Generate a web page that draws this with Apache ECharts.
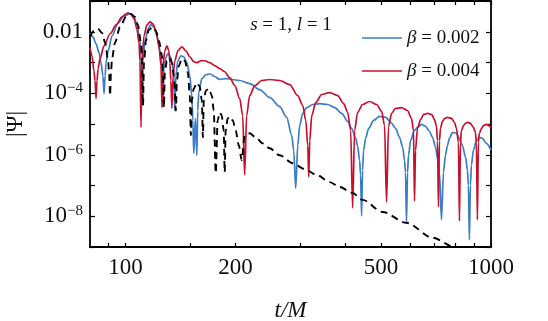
<!DOCTYPE html>
<html>
<head>
<meta charset="utf-8">
<script src="https://cdn.jsdelivr.net/npm/echarts@6/dist/echarts.min.js"></script>
<style>
  html, body { margin: 0; padding: 0; background: #fff; }
  #chart { width: 548px; height: 321px; }
</style>
</head>
<body>
<div id="chart"></div>
<script>
// axis ticks / labels
const xTicks = [90, 100, 150, 200, 300, 400, 500, 600, 700, 800, 900, 1000]
const xLabels = [100, 200, 500, 1000]
const yTicks = [1e-9, 1e-8, 1e-7, 1e-6, 1e-5, 1e-4, 1e-3, 1e-2, 1e-1]
const yLabels = [1e-8, 1e-6, 1e-4, 1e-2]

// |Psi| vs t/M
const gr = [
  [80.0, 6.8e-3], [82.0, 0.0107], [84.2, 0.0124], [86.3, 9.2e-3], [88.0, 4.4e-3],
  [89.7, 1.14e-3], [90.2, 4.7e-4], [90.8, 8.4e-5], [91.3, 4.7e-4], [91.9, 1.33e-3],
  [93.6, 4.4e-3], [96.7, 0.0144], [100.4, 0.0303], [103.5, 0.038], [106.2, 0.0303],
  [108.2, 0.0167], [110.3, 4.4e-3], [111.0, 1.14e-3], [111.7, 4.0e-5], [112.4, 9.9e-4],
  [113.8, 5.1e-3], [115.9, 0.0115], [118.9, 0.0144], [121.2, 0.0107], [123.5, 5.1e-3],
  [125.9, 1.66e-3], [126.6, 5.4e-4], [127.4, 3.4e-5], [128.2, 4.7e-4], [129.8, 1.14e-3],
  [132.3, 1.43e-3], [134.0, 9.9e-4], [135.7, 3.7e-4], [137.4, 2.75e-5], [138.3, 2.6e-4],
  [140.0, 7.9e-4], [142.7, 1.33e-3], [145.4, 1.14e-3], [148.2, 4.7e-4], [150.0, 8.4e-5],
  [151.0, 4.3e-6], [151.9, 5.8e-5], [153.8, 1.42e-4], [156.8, 2.2e-4], [159.7, 1.65e-4],
  [161.8, 5.8e-5], [162.9, 3.7e-6], [163.8, 5.8e-5], [165.9, 1.22e-4], [169.1, 1.42e-4],
  [172.3, 8.4e-5], [174.4, 2.75e-5], [176.6, 2.5e-7], [178.8, 1.31e-5], [181.1, 2.37e-5],
  [183.4, 1.9e-5], [185.7, 6.2e-6], [186.9, 2.7e-7], [188.0, 6.2e-6], [190.4, 1.52e-5],
  [192.8, 1.76e-5], [196.7, 1.31e-5], [200.2, 6.2e-6], [204.3, 2.0e-6], [208.0, 6.6e-7],
  [211.9, 4.3e-6], [218.7, 5.0e-6], [227.1, 3.7e-6], [237.6, 2.35e-6], [248.0, 1.62e-6],
  [264.2, 9.6e-7], [286.9, 5.3e-7], [309.4, 3.4e-7], [333.7, 2.2e-7], [362.0, 1.29e-7],
  [385.5, 8.9e-8], [418.3, 5.7e-8], [445.4, 3.4e-8], [505.0, 1.38e-8], [587.3, 6.1e-9],
  [691.6, 2.0e-9], [794.3, 1.0e-9], [872.8, 5.6e-10]
]

const beta002 = [
  [80.0, 9.2e-3], [81.5, 6.8e-3], [83.1, 4.06e-3], [84.7, 2.08e-3], [85.7, 9.9e-4],
  [86.8, 3.7e-4], [87.4, 9.8e-5], [88.0, 3.7e-4], [88.5, 9.9e-4], [89.7, 2.4e-3],
  [91.9, 7.4e-3], [95.5, 0.0194], [99.2, 0.0327], [102.9, 0.038], [105.6, 0.0303],
  [107.5, 0.0167], [109.6, 5.1e-3], [110.3, 1.66e-3], [111.0, 4.0e-5], [111.7, 1.14e-3],
  [113.1, 5.1e-3], [115.3, 0.0124], [117.4, 0.0167], [119.7, 0.0144], [121.9, 7.4e-3],
  [124.3, 2.4e-3], [125.9, 7.9e-4], [126.6, 4.0e-5], [127.4, 6.3e-4], [129.0, 1.43e-3],
  [130.6, 1.93e-3], [132.3, 1.66e-3], [134.0, 9.9e-4], [135.7, 3.7e-4], [136.5, 2.75e-5],
  [137.4, 3.7e-4], [139.1, 1.14e-3], [141.8, 1.66e-3], [144.5, 1.54e-3], [147.3, 9.9e-4],
  [150.0, 3.7e-4], [151.9, 8.4e-5], [152.9, 1.31e-5], [153.8, 1.12e-6], [155.4, 1.5e-5],
  [156.8, 9.6e-7], [157.7, 2.75e-5], [158.7, 1.05e-4], [161.8, 3.0e-4], [165.9, 4.0e-4],
  [170.1, 4.3e-4], [175.5, 3.5e-4], [181.1, 2.8e-4], [188.0, 3.0e-4], [195.3, 2.8e-4],
  [205.4, 2.6e-4], [218.7, 2.06e-4], [232.9, 1.32e-4], [248.0, 7.3e-5], [264.2, 3.7e-5],
  [276.1, 1.64e-5], [285.0, 4.3e-6], [288.6, 1.4e-6], [292.3, 8.2e-8], [296.0, 2.0e-6],
  [299.8, 9.0e-6], [305.5, 2.2e-5], [313.3, 3.4e-5], [325.4, 4.3e-5], [340.0, 4.6e-5],
  [357.6, 4.3e-5], [373.6, 3.4e-5], [390.6, 2.2e-5], [405.5, 1.21e-5], [415.7, 7.2e-6],
  [426.5, 3.4e-6], [431.6, 1.9e-6], [437.1, 6.6e-7], [439.8, 2.2e-7], [442.6, 1.02e-8],
  [445.4, 3.15e-7], [448.2, 1.4e-6], [453.9, 3.4e-6], [462.8, 7.2e-6], [477.6, 1.31e-5],
  [495.6, 1.76e-5], [514.6, 1.64e-5], [534.9, 1.05e-5], [548.0, 7.2e-6], [562.0, 3.7e-6],
  [573.3, 1.75e-6], [580.0, 6.6e-7], [583.6, 2.7e-7], [587.3, 6.1e-9], [591.0, 2.7e-7],
  [594.8, 9.6e-7], [602.7, 2.9e-6], [617.6, 6.2e-6], [634.0, 8.4e-6], [645.4, 9.7e-6],
  [662.4, 8.4e-6], [678.7, 5.8e-6], [691.6, 3.7e-6], [705.5, 1.75e-6], [713.8, 7.6e-7],
  [722.8, 2.7e-7], [732.0, 7.6e-9], [741.2, 2.7e-7], [750.6, 9.6e-7], [760.1, 2.0e-6],
  [769.7, 3.4e-6], [784.3, 5.35e-6], [804.4, 5.0e-6], [819.7, 3.4e-6], [835.3, 2.0e-6],
  [852.0, 8.3e-7], [861.9, 3.15e-7], [867.3, 1.03e-7], [872.8, 1.7e-9], [878.3, 1.03e-7],
  [883.9, 4.6e-7], [895.1, 1.4e-6], [912.1, 2.9e-6], [929.5, 3.7e-6], [947.2, 3.4e-6],
  [971.3, 2.35e-6], [1000, 1.4e-6]
]

const beta004 = [
  [80.0, 3.0e-3], [81.0, 1.66e-3], [82.0, 5.4e-4], [82.6, 2.6e-4], [83.1, 6.7e-5],
  [83.6, 2.6e-4], [84.2, 6.3e-4], [85.2, 1.33e-3], [87.4, 3.5e-3], [90.8, 8.6e-3],
  [94.3, 0.0167], [97.9, 0.0303], [100.4, 0.0379], [101.6, 0.041], [103.5, 0.038],
  [105.6, 0.0261], [107.5, 0.0124], [108.9, 4.4e-3], [109.6, 1.14e-3], [110.3, 7.8e-6],
  [111.0, 1.14e-3], [112.4, 7.4e-3], [114.5, 0.0167], [116.7, 0.0209], [118.9, 0.018],
  [121.2, 0.0107], [123.5, 3.5e-3], [125.1, 7.9e-4], [125.9, 3.4e-5], [126.6, 7.9e-4],
  [128.2, 2.4e-3], [129.8, 3.5e-3], [131.5, 2.4e-3], [132.3, 9.9e-4], [133.1, 2.6e-4],
  [134.0, 3.2e-5], [134.8, 3.0e-4], [136.5, 1.14e-3], [139.1, 2.4e-3], [142.7, 3.25e-3],
  [146.3, 2.4e-3], [150.0, 1.54e-3], [153.8, 1.06e-3], [156.8, 9.9e-4], [160.9, 1.14e-3],
  [164.9, 1.14e-3], [170.1, 9.9e-4], [175.5, 7.9e-4], [181.1, 6.3e-4], [186.9, 5.0e-4],
  [192.8, 3.2e-4], [199.2, 1.77e-4], [205.4, 6.7e-5], [209.3, 1.9e-5], [211.9, 2.2e-7],
  [214.6, 1.9e-5], [218.7, 8.4e-5], [225.9, 1.77e-4], [236.1, 2.6e-4], [248.0, 2.8e-4],
  [264.2, 2.6e-4], [281.4, 1.9e-4], [296.0, 8.4e-5], [305.5, 4.0e-5], [311.4, 1.31e-5],
  [315.3, 2.0e-6], [317.3, 1.9e-7], [319.3, 2.9e-6], [323.4, 1.9e-5], [331.6, 5.0e-5],
  [344.3, 9.1e-5], [362.0, 1.05e-4], [380.8, 8.4e-5], [395.3, 4.6e-5], [405.5, 2.37e-5],
  [413.1, 6.2e-6], [418.3, 1.86e-8], [423.6, 6.2e-6], [431.6, 2.37e-5], [445.4, 4.3e-5],
  [465.4, 5.4e-5], [486.6, 4.3e-5], [502.2, 2.56e-5], [511.4, 9.0e-6], [517.9, 2.9e-8],
  [524.4, 8.4e-6], [534.9, 2.2e-5], [548.0, 3.2e-5], [569.1, 3.4e-5], [591.0, 2.75e-5],
  [606.1, 1.52e-5], [613.8, 6.2e-6], [617.6, 3.1e-8], [621.5, 1.4e-6], [629.4, 7.2e-6],
  [642.1, 1.41e-5], [654.3, 2.05e-5], [670.2, 2.2e-5], [688.0, 2.05e-5], [700.4, 1.41e-5],
  [709.3, 8.4e-6], [713.8, 2.9e-6], [718.3, 2.0e-8], [722.8, 2.9e-6], [727.4, 7.2e-6],
  [736.6, 1.21e-5], [746.5, 1.52e-5], [760.1, 1.64e-5], [780.1, 1.52e-5], [794.3, 1.13e-5],
  [804.4, 7.2e-6], [814.6, 2.54e-6], [819.7, 7.0e-9], [824.9, 2.54e-6], [830.1, 6.2e-6],
  [841.4, 9.0e-6], [852.0, 1.05e-5], [861.9, 1.13e-5], [878.3, 1.05e-5], [895.1, 7.8e-6],
  [906.4, 5.35e-6], [912.1, 2.54e-6], [917.9, 7.6e-9], [923.7, 2.54e-6], [929.5, 5.0e-6],
  [942.4, 7.2e-6], [954.3, 9.0e-6], [971.3, 9.7e-6], [1000, 7.8e-6]
]

const FONT = 'Liberation Serif'
const BLUE = '#3a7cc6'
const RED = '#c8102e'
const INK = '#111'

const chart = echarts.init(document.getElementById('chart'), null, { renderer: 'canvas' })

const axisLineStyle = { color: '#000', width: 1.8 }

// shared bits for the frame axes
const xAxisBase = {
  type: 'log',
  min: 80,
  max: 1000,
  splitLine: { show: false },
  axisLine: { show: true, onZero: false, lineStyle: axisLineStyle },
  axisTick: { show: true, inside: true, length: 4, customValues: xTicks, lineStyle: { color: '#000', width: 1.2 } }
}
const yAxisBase = {
  type: 'log',
  min: 1e-9,
  max: 0.1,
  splitLine: { show: false },
  axisLine: { show: true, onZero: false, lineStyle: axisLineStyle },
  axisTick: { show: true, inside: true, length: 5, customValues: yTicks, lineStyle: { color: '#000', width: 1.2 } }
}

const option = {
  animation: false,
  backgroundColor: '#fff',
  grid: { left: 90, right: 57, top: 1, bottom: 74, outerBoundsMode: 'none' },
  legend: {
    data: ['β = 0.002', 'β = 0.004'],
    orient: 'vertical',
    left: 357,
    top: 23,
    icon: 'rect',
    itemWidth: 40,
    itemHeight: 1.7,
    itemGap: 13,
    formatter: name => '{b|β}' + name.slice(1),
    textStyle: {
      fontFamily: FONT, fontSize: 19, color: INK, lineHeight: 20,
      rich: { b: { fontFamily: FONT, fontSize: 19, fontStyle: 'italic', color: INK, lineHeight: 20 } }
    }
  },
  xAxis: [
    {
      ...xAxisBase,
      position: 'bottom',
      name: 't/M',
      nameLocation: 'middle',
      nameGap: 52,
      nameTextStyle: { fontFamily: FONT, fontSize: 23, fontStyle: 'italic', color: INK },
      axisLabel: {
        customValues: xLabels,
        margin: 9,
        fontFamily: FONT, fontSize: 23, color: INK,
        formatter: v => String(Math.round(v))
      }
    },
    { ...xAxisBase, position: 'top', axisLabel: { show: false } }
  ],
  yAxis: [
    {
      ...yAxisBase,
      position: 'left',
      name: '|Ψ|',
      nameLocation: 'middle',
      nameGap: 63,
      nameTextStyle: { fontFamily: FONT, fontSize: 23, color: INK },
      axisLabel: {
        customValues: yLabels,
        margin: 7,
        fontFamily: FONT, fontSize: 23, color: INK,
        formatter: v => {
          const e = Math.round(Math.log10(v))
          return e === -2 ? '0.01' : '10{s|−' + (-e) + '}'
        },
        rich: { s: { fontFamily: FONT, fontSize: 15, color: INK, padding: [0, 0, 10, 0] } }
      }
    },
    { ...yAxisBase, position: 'right', axisLabel: { show: false } }
  ],
  graphic: [
    {
      type: 'text',
      x: 291,
      y: 25,
      style: {
        text: '{i|s} = 1, {i|l} = 1',
        align: 'center',
        verticalAlign: 'middle',
        fontFamily: FONT,
        fontSize: 19,
        fill: INK,
        rich: { i: { fontFamily: FONT, fontSize: 19, fontStyle: 'italic', fill: INK } }
      }
    }
  ],
  series: [
    {
      name: 'β = 0.002', type: 'line', data: beta002, showSymbol: false, symbol: 'none',
      smooth: 0.3, smoothMonotone: 'x',
      lineStyle: { color: BLUE, width: 1.7 }, itemStyle: { color: BLUE }, z: 2
    },
    {
      name: 'β = 0.004', type: 'line', data: beta004, showSymbol: false, symbol: 'none',
      smooth: 0.3, smoothMonotone: 'x',
      lineStyle: { color: RED, width: 1.7 }, itemStyle: { color: RED }, z: 3
    },
    {
      name: 'GR', type: 'line', data: gr, showSymbol: false, symbol: 'none',
      smooth: 0.3, smoothMonotone: 'x',
      lineStyle: { color: '#000', width: 1.9, type: [7, 5] }, itemStyle: { color: '#000' }, z: 4
    }
  ]
}

chart.setOption(option)
</script>
</body>
</html>
